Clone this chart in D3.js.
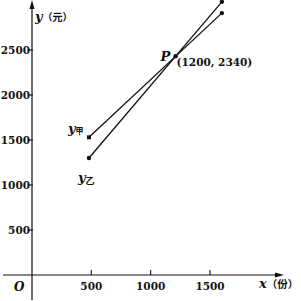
<!DOCTYPE html>
<html>
<head>
<meta charset="utf-8">
<script src="https://cdn.jsdelivr.net/npm/d3@7"></script>
<style>
  html, body { margin: 0; padding: 0; background: #fff; }
  svg { display: block; }
  text { font-family: "DejaVu Serif", "Noto Sans CJK SC", serif; font-weight: bold; fill: #111; }
  .cjk { font-family: "Noto Sans CJK SC", sans-serif; font-weight: bold; }
</style>
</head>
<body>
<svg></svg>
<script>
// datos
var xTicks = [500, 1000, 1500],
	yTicks = [500, 1000, 1500, 2000, 2500],
	lineaJia = [[480, 1530], [1600, 2910]],
	lineaYi = [[480, 1300], [1600, 3035]],
	puntoP = [1210, 2430],
	etiquetaP = '(1200, 2340)';

var w = 301, h = 301,
	svg = d3.select('svg').attr('width', w).attr('height', h);

var x = d3.scaleLinear().domain([0, 1500]).range([32, 210]),
	y = d3.scaleLinear().domain([0, 2500]).range([275, 50]);

var x0 = x(0), y0 = y(0);

// ejes
svg.append('line').attr('x1', 3).attr('x2', 280).attr('y1', y0).attr('y2', y0)
	.attr('stroke', '#111').attr('stroke-width', 1.2);
svg.append('path').attr('d', 'M284,' + y0 + 'L275,' + (y0 - 2.5) + 'L275,' + (y0 + 2.5) + 'Z').attr('fill', '#111');
svg.append('line').attr('x1', x0).attr('x2', x0).attr('y1', 300).attr('y2', 4)
	.attr('stroke', '#111').attr('stroke-width', 1.2);
svg.append('path').attr('d', 'M' + x0 + ',0L' + (x0 - 2.5) + ',9L' + (x0 + 2.5) + ',9Z').attr('fill', '#111');

// marcas del eje x
svg.selectAll('.xt').data(xTicks).enter().append('line')
	.attr('x1', function(d){return x(d)}).attr('x2', function(d){return x(d)})
	.attr('y1', y0).attr('y2', y0 - 5)
	.attr('stroke', '#111').attr('stroke-width', 1.1);
svg.selectAll('.xl').data(xTicks).enter().append('text')
	.attr('x', function(d){return x(d)}).attr('y', y0 + 15)
	.attr('text-anchor', 'middle').style('font-size', '10.5px')
	.text(function(d){return d});

// marcas del eje y
svg.selectAll('.yt').data(yTicks).enter().append('line')
	.attr('x1', x0 - 3).attr('x2', x0 + 1)
	.attr('y1', function(d){return y(d)}).attr('y2', function(d){return y(d)})
	.attr('stroke', '#111').attr('stroke-width', 1.1);
svg.selectAll('.yl').data(yTicks).enter().append('text')
	.attr('x', x0 - 2).attr('y', function(d){return y(d)}).attr('dy', '0.36em')
	.attr('text-anchor', 'end').style('font-size', '10.5px')
	.text(function(d){return d});

// O
svg.append('text').attr('x', 14).attr('y', y0 + 16)
	.style('font-size', '12px').style('font-style', 'italic').text('O');

// etiquetas de los ejes
var ty = svg.append('text').attr('x', 35).attr('y', 21).style('font-size', '13px');
ty.append('tspan').style('font-style', 'italic').text('y');
ty.append('tspan').attr('class', 'cjk').style('font-size', '10px').text('（元）');

var tx = svg.append('text').attr('x', 259).attr('y', y0 + 13).style('font-size', '13px');
tx.append('tspan').style('font-style', 'italic').text('x');
tx.append('tspan').attr('class', 'cjk').style('font-size', '10.5px').text('（份）');

// rectas
var linea = d3.line().x(function(d){return x(d[0])}).y(function(d){return y(d[1])});
[lineaJia, lineaYi].forEach(function(l){
	svg.append('path').attr('d', linea(l)).attr('fill', 'none')
		.attr('stroke', '#111').attr('stroke-width', 1.3);
});

// puntos
svg.append('rect').attr('x', x(lineaJia[0][0]) - 2).attr('y', y(lineaJia[0][1]) - 2)
	.attr('width', 4).attr('height', 4).attr('fill', '#111');
[lineaYi[0], lineaJia[1], lineaYi[1], puntoP].forEach(function(p){
	svg.append('circle').attr('cx', x(p[0])).attr('cy', y(p[1])).attr('r', 2.2).attr('fill', '#111');
});

// nombres de las rectas
var tj = svg.append('text').attr('x', x(lineaJia[0][0]) - 21).attr('y', y(lineaJia[0][1]) - 4).style('font-size', '13px');
tj.append('tspan').style('font-style', 'italic').text('y');
tj.append('tspan').attr('class', 'cjk').style('font-size', '8px').attr('dy', 1).text('甲');

var tyi = svg.append('text').attr('x', x(lineaYi[0][0]) - 11).attr('y', y(lineaYi[0][1]) + 24).style('font-size', '13px');
tyi.append('tspan').style('font-style', 'italic').text('y');
tyi.append('tspan').attr('class', 'cjk').style('font-size', '9px').attr('dy', 2).text('乙');

// punto P
svg.append('text').attr('x', x(puntoP[0]) - 15).attr('y', y(puntoP[1]) + 5)
	.style('font-size', '13px').style('font-style', 'italic').text('P');
svg.append('text').attr('x', x(puntoP[0]) + 1).attr('y', y(puntoP[1]) + 10)
	.style('font-size', '10.5px').text(etiquetaP);
</script>
</body>
</html>
